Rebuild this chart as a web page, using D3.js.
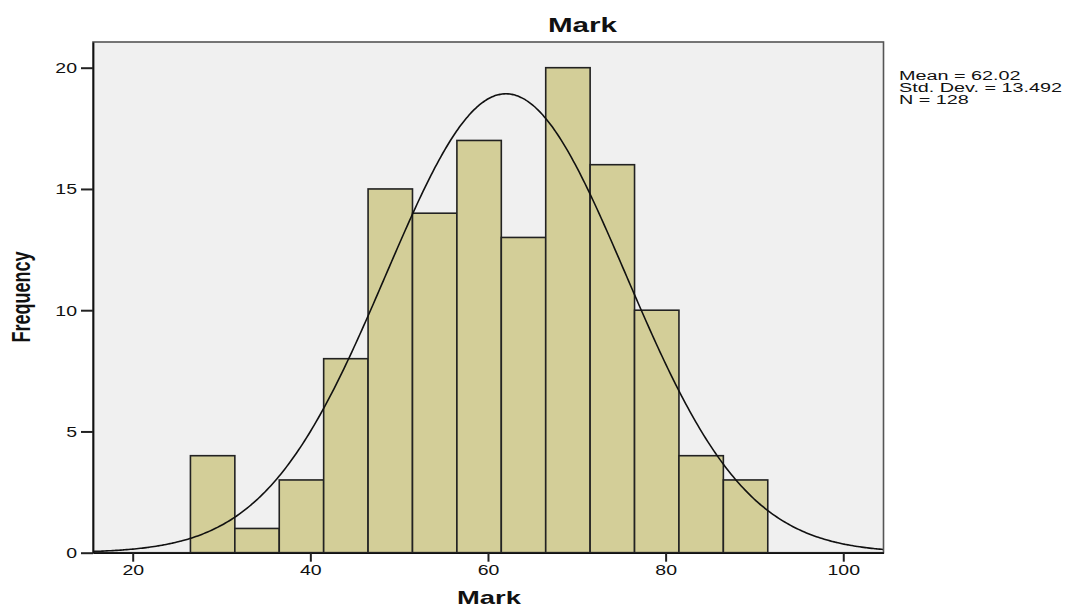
<!DOCTYPE html>
<html>
<head>
<meta charset="utf-8">
<script src="https://cdn.jsdelivr.net/npm/d3@7"></script>
<style>
  body { margin: 0; background: #fff; }
  svg { display: block; }
  text { font-family: "Liberation Sans", Arial, sans-serif; fill: #111; }
</style>
</head>
<body>
<svg id="chart" width="1070" height="608"></svg>
<script>
// ---- data ----
const binStarts = [26.5, 31.5, 36.5, 41.5, 46.5, 51.5, 56.5, 61.5, 66.5, 71.5, 76.5, 81.5, 86.5];
const binWidth = 5;
const frequencies = [4, 1, 3, 8, 15, 14, 17, 13, 20, 16, 10, 4, 3];
const xTicks = [20, 40, 60, 80, 100];
const yTicks = [0, 5, 10, 15, 20];
const statMean = 62.02;
const statSD = 13.492;
const statN = 128;
const statLines = ["Mean = 62.02", "Std. Dev. = 13.492", "N = 128"];
const titleText = "Mark";
const xLabel = "Mark";
const yLabel = "Frequency";

// ---- layout ----
const L = 93, R = 883.5, T = 42, B = 552.7;
const svg = d3.select("#chart");
const x = d3.scaleLinear().domain([15.53, 104.53]).range([L, R]);
const y = d3.scaleLinear().domain([0, 21.06]).range([B, T]);

// plot background
svg.append("rect").attr("x", L).attr("y", T).attr("width", R - L).attr("height", B - T)
  .attr("fill", "#f0f0f0");

// bars
const bars = binStarts.map((s, i) => ({ x0: s, x1: s + binWidth, v: frequencies[i] }));
svg.append("g").selectAll("rect").data(bars).join("rect")
  .attr("x", d => x(d.x0))
  .attr("y", d => y(d.v))
  .attr("width", d => x(d.x1) - x(d.x0))
  .attr("height", d => y(0) - y(d.v))
  .attr("fill", "#d3ce98")
  .attr("stroke", "#222")
  .attr("stroke-width", 1.6);

// normal curve from stats
const scaleK = statN * binWidth;
const pts = d3.range(0, 401).map(i => {
  const xv = x.domain()[0] + (x.domain()[1] - x.domain()[0]) * i / 400;
  const z = (xv - statMean) / statSD;
  return [xv, scaleK * Math.exp(-0.5 * z * z) / (statSD * Math.sqrt(2 * Math.PI))];
});
svg.append("path").datum(pts)
  .attr("d", d3.line().x(d => x(d[0])).y(d => y(d[1])).curve(d3.curveBasis))
  .attr("fill", "none").attr("stroke", "#111").attr("stroke-width", 1.6);

// frame
svg.append("rect").attr("x", L).attr("y", T).attr("width", R - L).attr("height", B - T)
  .attr("fill", "none").attr("stroke", "#555").attr("stroke-width", 1.6);

// axes
const xAxis = svg.append("g").attr("transform", `translate(0,${B})`)
  .call(d3.axisBottom(x).tickValues(xTicks).tickSize(9).tickSizeOuter(0).tickPadding(3));
const yAxis = svg.append("g").attr("transform", `translate(${L},0)`)
  .call(d3.axisLeft(y).tickValues(yTicks).tickSize(12).tickSizeOuter(0).tickPadding(4));
[xAxis, yAxis].forEach(a => {
  a.select(".domain").attr("stroke", "#111").attr("stroke-width", 1.8);
  a.selectAll(".tick line").attr("stroke", "#222").attr("stroke-width", 2);
  a.selectAll(".tick text").attr("font-size", 15).attr("fill", "#222")
    .attr("font-family", "Liberation Sans, Arial, sans-serif");
});
xAxis.selectAll(".tick text").attr("transform", "scale(1.3,1)");
yAxis.selectAll(".tick text").each(function() {
  const t = d3.select(this);
  const xx = +t.attr("x");
  t.attr("x", xx / 1.3).attr("transform", "scale(1.3,1)");
});

// title
svg.append("text").attr("transform", "translate(582.5,32) scale(1.52,1)")
  .attr("text-anchor", "middle").attr("font-size", 19.5).attr("font-weight", "bold")
  .text(titleText);

// x label
svg.append("text").attr("transform", "translate(489,604) scale(1.52,1)")
  .attr("text-anchor", "middle").attr("font-size", 18).attr("font-weight", "bold")
  .text(xLabel);

// y label
svg.append("text").attr("transform", "translate(29.5,297) scale(1.4,1) rotate(-90)")
  .attr("text-anchor", "middle").attr("font-size", 18).attr("font-weight", "bold")
  .text(yLabel);

// stats
statLines.forEach((s, i) => {
  svg.append("text").attr("transform", `translate(899,${79.5 + i * 12}) scale(1.65,1)`)
    .attr("font-size", 12).attr("fill", "#111").text(s);
});
</script>
</body>
</html>
